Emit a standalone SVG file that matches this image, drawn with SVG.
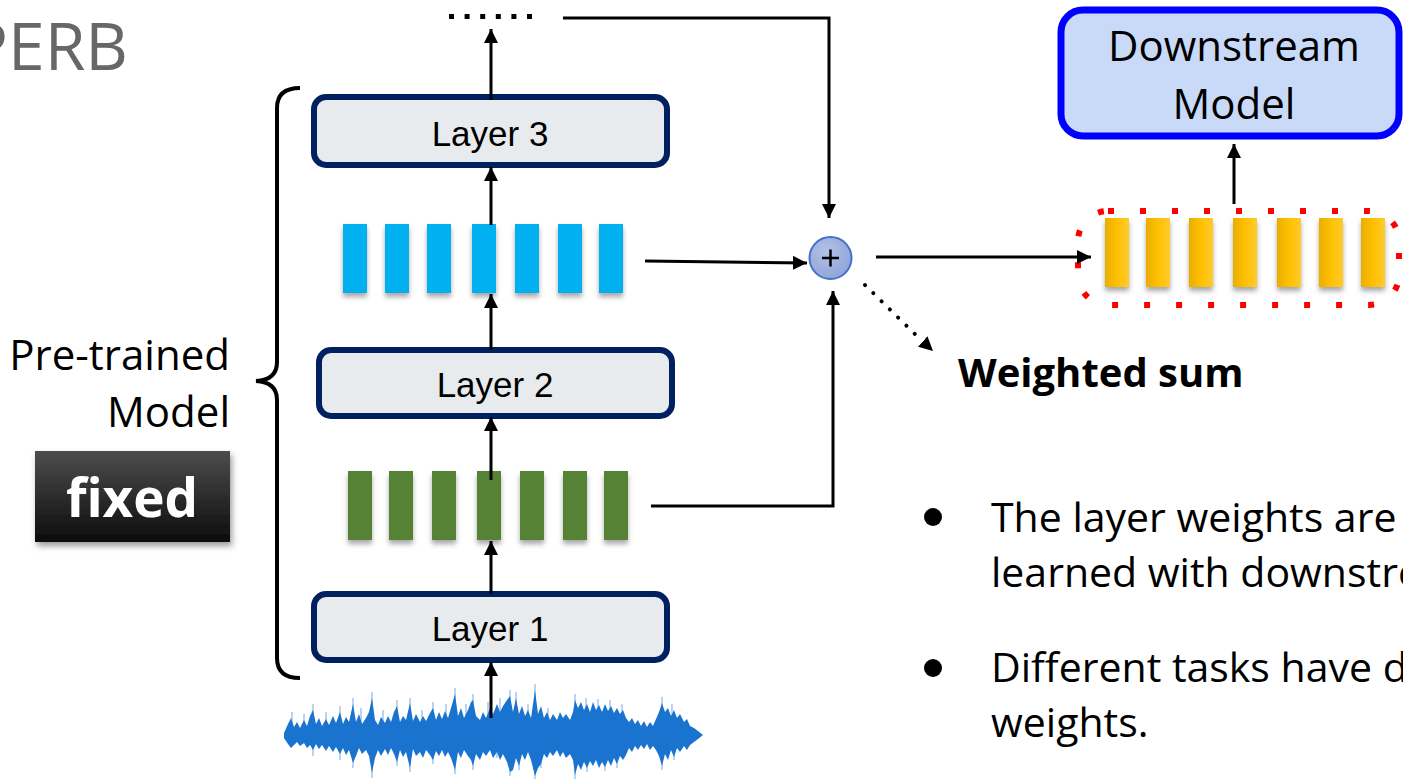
<svg xmlns="http://www.w3.org/2000/svg" width="1403" height="779" viewBox="0 0 1403 779">
  <defs>
    <marker id="arrow" markerUnits="userSpaceOnUse" markerWidth="16" markerHeight="16" refX="14" refY="7" orient="auto">
      <path d="M0,0 L14,7 L0,14 z" fill="#000"/>
    </marker>
    <filter id="barShadow" x="-50%" y="-20%" width="200%" height="150%">
      <feGaussianBlur in="SourceAlpha" stdDeviation="2.5"/>
      <feOffset dx="0" dy="4" result="blur"/>
      <feFlood flood-color="#6e6e6e" flood-opacity="0.6"/>
      <feComposite in2="blur" operator="in"/>
      <feMerge>
        <feMergeNode/>
        <feMergeNode in="SourceGraphic"/>
      </feMerge>
    </filter>
    <filter id="boxShadow" x="-10%" y="-10%" width="125%" height="135%">
      <feDropShadow dx="2" dy="4" stdDeviation="3" flood-color="#555" flood-opacity="0.6"/>
    </filter>
    <linearGradient id="goldGrad" x1="0" y1="0" x2="1" y2="0">
      <stop offset="0" stop-color="#e8ae00"/>
      <stop offset="0.5" stop-color="#ffc000"/>
      <stop offset="1" stop-color="#ffcb2e"/>
    </linearGradient>
    <linearGradient id="fixedGrad" x1="0" y1="0" x2="0" y2="1">
      <stop offset="0" stop-color="#4d4d4d"/>
      <stop offset="1" stop-color="#0c0c0c"/>
    </linearGradient>
    <radialGradient id="sumGrad" cx="0.4" cy="0.35" r="0.7">
      <stop offset="0" stop-color="#b4c1e6"/>
      <stop offset="1" stop-color="#8fa3d8"/>
    </radialGradient>
    <style>
      .layer rect { fill: #e8ebee; stroke: #002060; stroke-width: 6; }
      .layer text { font-family: "Liberation Sans", Arial, sans-serif; font-size: 35px; fill: #000; text-anchor: middle; }
      .blue rect { fill: #00b0f0; }
      .green rect { fill: #548235; }
      .gold rect { fill: url(#goldGrad); }
      .conn { fill: none; stroke: #000; stroke-width: 3; }
      .label { font-family: "Open Sans", "Liberation Sans", sans-serif; fill: #000; }
      .spikes { fill: none; stroke: #5a9be0; stroke-width: 1.2; stroke-opacity: 0.7; }
    </style>
  </defs>

  <!-- slide title, partly off the left edge -->
  <text x="128" y="70" text-anchor="end" font-family="Open Sans, Liberation Sans, sans-serif" font-size="66" fill="#676767">PERB</text>

  <!-- curly brace around the pre-trained stack -->
  <path d="M300,88 Q277,88 277,108 L277,362 Q277,380 256,381 Q277,382 277,400 L277,658 Q277,678 300,678" fill="none" stroke="#000" stroke-width="4"/>

  <g id="pretrained-label">
    <text class="label" x="230" y="370" text-anchor="end" font-size="42">Pre-trained</text>
    <text class="label" x="230" y="427" text-anchor="end" font-size="42">Model</text>
  </g>

  <g id="fixed-badge">
    <rect x="35" y="451" width="195" height="91" fill="url(#fixedGrad)" filter="url(#boxShadow)"/>
    <text x="132" y="517" text-anchor="middle" font-family="Open Sans, Liberation Sans, sans-serif" font-weight="bold" font-size="53" fill="#fff">fixed</text>
  </g>

  <!-- waveform input -->
  <g id="waveform">
    <path class="spikes" d="M292,735 V712 M304,735 V714 M313,735 V704 M326,735 V712 M340,735 V706 M353,735 V698 M361,735 V708 M372,735 V692 M383,735 V710 M397,735 V700 M410,735 V698 M422,735 V710 M433,735 V702 M446,735 V704 M455,735 V688 M466,735 V704 M473,735 V694 M488,735 V702 M500,735 V698 M510,735 V690 M516,735 V692 M528,735 V704 M535,735 V684 M548,735 V708 M575,735 V694 M586,735 V698 M598,735 V699 M610,735 V700 M622,735 V704 M662,735 V697 M672,735 V704 M313,735 V756 M340,735 V760 M353,735 V768 M372,735 V778 M397,735 V766 M410,735 V772 M433,735 V764 M455,735 V774 M473,735 V770 M497,735 V758 M510,735 V776 M519,735 V770 M535,735 V779 M541,735 V768 M575,735 V779 M587,735 V772 M605,735 V771 M617,735 V768 M662,735 V770 M674,735 V760"/>
    <path fill="#1a74cf" d="M284,733 L288,724 L291,718 L294,727 L297,722 L300,728 L304,720 L307,726 L310,716 L313,710 L316,724 L319,718 L322,726 L326,719 L329,725 L333,716 L336,723 L340,712 L343,724 L346,717 L349,722 L353,704 L356,722 L359,714 L362,724 L366,718 L369,712 L372,698 L375,720 L378,725 L381,717 L385,723 L388,716 L391,722 L394,712 L397,706 L400,722 L403,716 L406,720 L410,703 L413,721 L416,714 L420,722 L423,716 L426,721 L430,713 L433,708 L436,720 L439,712 L442,719 L445,711 L448,718 L451,708 L455,694 L458,716 L461,708 L464,718 L468,710 L471,702 L473,700 L476,716 L480,720 L483,712 L486,718 L490,708 L493,714 L497,704 L500,712 L503,706 L507,700 L510,696 L513,712 L516,698 L519,714 L522,706 L525,716 L528,710 L531,718 L535,690 L538,714 L541,706 L544,718 L547,712 L550,720 L553,714 L557,720 L560,712 L563,718 L566,714 L570,720 L573,712 L575,700 L578,708 L581,702 L584,710 L587,704 L590,712 L593,702 L596,710 L599,705 L602,712 L605,704 L608,711 L611,706 L614,713 L617,708 L620,714 L623,710 L626,718 L629,722 L632,718 L635,724 L638,720 L641,726 L644,721 L647,727 L650,722 L653,726 L656,719 L659,712 L662,703 L665,712 L668,708 L671,716 L674,710 L677,718 L680,714 L684,722 L687,719 L690,726 L694,728 L698,731 L703,735 L698,739 L694,742 L690,745 L687,750 L684,746 L680,752 L677,748 L674,757 L671,750 L668,760 L665,754 L662,766 L659,756 L656,750 L653,746 L650,750 L647,744 L644,749 L641,745 L638,750 L635,746 L632,752 L629,748 L626,755 L623,760 L620,756 L617,764 L614,758 L611,766 L608,760 L605,767 L602,762 L599,768 L596,760 L593,766 L590,761 L587,768 L584,762 L581,770 L578,764 L575,775 L573,760 L570,754 L566,758 L563,752 L560,757 L557,750 L553,756 L550,752 L547,758 L544,754 L541,764 L538,768 L535,776 L531,760 L528,752 L525,760 L522,754 L519,766 L516,758 L513,770 L510,772 L507,762 L503,754 L500,760 L497,752 L493,758 L490,750 L486,756 L483,752 L480,760 L476,754 L473,766 L471,760 L468,756 L464,750 L461,758 L458,752 L455,770 L451,758 L448,752 L445,757 L442,750 L439,756 L436,751 L433,760 L430,755 L426,750 L423,758 L420,752 L416,756 L413,749 L410,768 L406,752 L403,757 L400,750 L397,762 L394,754 L391,748 L388,755 L385,749 L381,756 L378,750 L375,758 L372,773 L369,756 L366,750 L362,754 L359,748 L356,756 L353,763 L349,750 L346,755 L343,748 L340,754 L336,747 L333,752 L329,746 L326,751 L322,745 L319,749 L316,744 L313,750 L310,745 L307,748 L304,743 L300,746 L297,742 L294,745 L291,748 L288,744 L284,738 z"/>
  </g>

  <g id="layer1" class="layer">
    <rect x="314" y="594" width="353" height="66" rx="12"/>
    <text x="490" y="641">Layer 1</text>
  </g>

  <g id="layer2" class="layer">
    <rect x="319" y="350" width="353" height="66" rx="12"/>
    <text x="495" y="397">Layer 2</text>
  </g>

  <g id="layer3" class="layer">
    <rect x="314" y="97" width="353" height="68" rx="12"/>
    <text x="490" y="146">Layer 3</text>
  </g>

  <g id="hidden-layer1" class="green" filter="url(#barShadow)">
    <rect x="348" y="471" width="24" height="69"/>
    <rect x="389" y="471" width="24" height="69"/>
    <rect x="432" y="471" width="24" height="69"/>
    <rect x="477" y="471" width="24" height="69"/>
    <rect x="520" y="471" width="24" height="69"/>
    <rect x="563" y="471" width="24" height="69"/>
    <rect x="604" y="471" width="24" height="69"/>
  </g>

  <g id="hidden-layer2" class="blue" filter="url(#barShadow)">
    <rect x="343" y="224" width="24" height="69"/>
    <rect x="385" y="224" width="24" height="69"/>
    <rect x="427" y="224" width="24" height="69"/>
    <rect x="472" y="224" width="24" height="69"/>
    <rect x="515" y="224" width="24" height="69"/>
    <rect x="558" y="224" width="24" height="69"/>
    <rect x="599" y="224" width="24" height="69"/>
  </g>

  <!-- deeper layers continue above -->
  <g id="more-layers">
    <line x1="449" y1="16.5" x2="535" y2="16.5" stroke="#000" stroke-width="5" stroke-dasharray="5 10.6"/>
  </g>

  <g id="weighted-sum">
    <circle cx="830.5" cy="258" r="21" fill="url(#sumGrad)" stroke="#4472c4" stroke-width="2"/>
    <path d="M822,258 H839 M830.5,249.5 V266.5" stroke="#000" stroke-width="2.5"/>
  </g>

  <g id="weighted-sum-label">
    <text class="label" x="958" y="387" font-size="40" font-weight="bold">Weighted sum</text>
  </g>

  <g id="combined-features">
    <g class="gold" filter="url(#barShadow)">
      <rect x="1105" y="218" width="24" height="69"/>
      <rect x="1146" y="218" width="24" height="69"/>
      <rect x="1189" y="218" width="24" height="69"/>
      <rect x="1233" y="218" width="24" height="69"/>
      <rect x="1277" y="218" width="24" height="69"/>
      <rect x="1319" y="218" width="24" height="69"/>
      <rect x="1361" y="218" width="24" height="69"/>
    </g>
    <rect x="1078" y="211" width="321" height="94" rx="30" fill="none" stroke="#ff0000" stroke-width="6" stroke-dasharray="6 26"/>
  </g>

  <g id="downstream-model">
    <rect x="1061" y="10" width="338" height="126" rx="22" fill="#c9daf8" stroke="#0000ff" stroke-width="7"/>
    <text class="label" x="1234" y="61" text-anchor="middle" font-size="42">Downstream</text>
    <text class="label" x="1234" y="119" text-anchor="middle" font-size="42">Model</text>
  </g>

  <g id="notes" class="label" font-size="41">
    <circle cx="933" cy="517" r="9" fill="#000"/>
    <text x="991" y="532">The layer weights are</text>
    <text x="991" y="587">learned with downstream</text>
    <circle cx="933" cy="668" r="9" fill="#000"/>
    <text x="991" y="682">Different tasks have different</text>
    <text x="991" y="737">weights.</text>
  </g>

  <g id="connectors">
    <line class="conn" x1="491" y1="718" x2="491" y2="662" marker-end="url(#arrow)"/>
    <line class="conn" x1="491" y1="594" x2="491" y2="541" marker-end="url(#arrow)"/>
    <line class="conn" x1="491" y1="480" x2="491" y2="417" marker-end="url(#arrow)"/>
    <line class="conn" x1="491" y1="350" x2="491" y2="294" marker-end="url(#arrow)"/>
    <line class="conn" x1="491" y1="225" x2="491" y2="167" marker-end="url(#arrow)"/>
    <line class="conn" x1="491" y1="100" x2="491" y2="29" marker-end="url(#arrow)"/>
    <line class="conn" x1="645" y1="261" x2="807" y2="263" marker-end="url(#arrow)"/>
    <polyline class="conn" points="563,18 829,18 829,218" marker-end="url(#arrow)"/>
    <polyline class="conn" points="651,506 833,506 833,291" marker-end="url(#arrow)"/>
    <line class="conn" x1="876" y1="257" x2="1091" y2="257" marker-end="url(#arrow)"/>
    <line class="conn" x1="1234" y1="204" x2="1234" y2="144" marker-end="url(#arrow)"/>
    <line x1="865" y1="285" x2="920" y2="339" stroke="#000" stroke-width="4" stroke-linecap="round" stroke-dasharray="0.1 11.5"/>
    <line x1="920" y1="339" x2="933" y2="351" stroke="none" marker-end="url(#arrow)"/>
  </g>
</svg>
